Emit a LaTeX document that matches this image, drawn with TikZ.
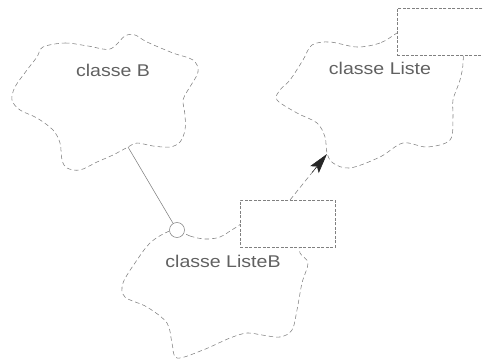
\documentclass[tikz,border=0pt]{standalone}
\usepackage{fontspec}
\setmainfont{Liberation Sans}
\usetikzlibrary{arrows.meta,calc}
\definecolor{ln}{gray}{0.5}
\definecolor{tx}{gray}{0.38}
\tikzset{
  cloudline/.style={draw=ln, line width=0.55pt, dash pattern=on 4.5pt off 3pt},
  boxline/.style={draw=ln, fill=white, line width=0.55pt, dash pattern=on 3pt off 1.5pt},
  lbl/.style={text=tx, font=\fontsize{17}{20}\selectfont, inner sep=0pt},
}
\begin{document}
\begin{tikzpicture}[x=1pt,y=-1pt]
\useasboundingbox (0,0) rectangle (483,360);
\begin{scope}
\clip (0,0) rectangle (483,360);
% cloud B
\draw[cloudline] plot[smooth cycle, tension=0.55] coordinates {
 (43,47) (65,43) (88,46) (110,49) (125,36) (135,35) (147,42) (173,53) (193,60) (198,72)
 (188,90) (183,100) (185,115) (185,130) (180,142) (170,147) (153,146) (137,143) (128,147)
 (113,155) (97,162) (80,170) (67,168) (62,160) (60,143) (53,130) (37,118) (20,110) (12,100)
 (15,87) (27,70) (37,57)};
% cloud Liste
\draw[cloudline] plot[smooth cycle, tension=0.55] coordinates {
 (397,33) (380,43) (357,47) (330,42) (312,45) (303,60) (290,80) (280,90) (277,100)
 (297,113) (317,123) (325,137) (327,153) (333,163) (350,168) (380,157) (403,143)
 (427,147) (450,140) (453,117) (453,100) (460,80) (463,63) (460,50) (430,30) (410,25)};
% cloud ListeB
\draw[cloudline] plot[smooth cycle, tension=0.55] coordinates {
 (177,230) (190,236) (205,239) (220,237) (235,228) (260,215) (295,235) (300,253) (308,263)
 (302,283) (297,310) (292,330) (280,337) (262,335) (247,333) (230,338) (203,350) (177,358)
 (172,343) (167,323) (147,307) (125,297) (123,283) (137,260) (150,243) (165,233)};
\node[boxline, minimum width=95pt, minimum height=47pt, anchor=north west, inner sep=0pt] (rB) at (240,200) {};
\node[boxline, minimum width=100pt, minimum height=47pt, anchor=north west, inner sep=0pt] (rL) at (397,8) {};
\end{scope}
\node[circle, draw=ln, fill=white, line width=0.55pt, minimum size=15pt, inner sep=0pt] (c) at (177,230) {};
\coordinate (bB) at (128,147);
\draw[ln, line width=0.55pt] (bB) -- (c);
\coordinate (tip) at (327,154);
\coordinate (st) at (290,200);
\draw[ln, line width=0.55pt, dash pattern=on 5pt off 3pt] (st) -- ($(st)!0.72!(tip)$);
\draw[black!85, line width=0.6pt, -{Stealth[length=20pt,width=11pt,inset=4pt]}] ($(st)!0.6!(tip)$) -- (tip);
\node[lbl] (tB) at (113,70) {\scalebox{1.15}[1]{classe B}};
\node[lbl] (tL) at (380,68) {\scalebox{1.15}[1]{classe Liste}};
\node[lbl] (tLB) at (223,261) {\scalebox{1.15}[1]{classe ListeB}};
\end{tikzpicture}
\end{document}
